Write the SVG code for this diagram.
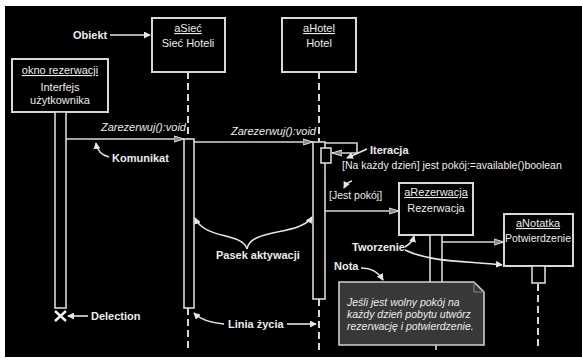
<svg xmlns="http://www.w3.org/2000/svg" width="582" height="363" viewBox="0 0 582 363">
<defs>
<marker id="msg" viewBox="0 0 10 8" refX="10" refY="4" markerWidth="10" markerHeight="8" markerUnits="userSpaceOnUse" orient="auto">
<path d="M0,1 L10,4 L0,7 Z" fill="#888" stroke="#e0e0e0" stroke-width="1"/>
</marker>
<marker id="ann" viewBox="0 0 8 8" refX="7" refY="4" markerWidth="7" markerHeight="7" markerUnits="userSpaceOnUse" orient="auto">
<path d="M0,0 L8,4 L0,8 Z" fill="#e6e6e6"/>
</marker>
<style>
.box{fill:#000;stroke:#d8d8d8;stroke-width:2}
.bar{fill:#000;stroke:#d8d8d8;stroke-width:1.6}
.life{stroke:#d8d8d8;stroke-width:2;stroke-dasharray:7 4;fill:none}
.msg{stroke:#d8d8d8;stroke-width:1.6;fill:none;marker-end:url(#msg)}
.ann{stroke:#e6e6e6;stroke-width:1.6;fill:none;marker-end:url(#ann)}
text{font-family:"Liberation Sans",Arial,sans-serif;fill:#ececec}
.t{font-size:11px;text-anchor:middle}
.u{text-decoration:underline}
.b{font-size:11px;font-weight:bold}
.i{font-size:11px;font-style:italic}
.g{font-size:10.5px}
.n{font-size:10.5px;font-style:italic}
</style>
</defs>
<rect x="0" y="0" width="582" height="363" fill="#ffffff"/>
<rect x="5" y="6" width="577" height="351" fill="#000000"/>

<g id="connectors">
<line class="life" x1="188" y1="72" x2="188" y2="139"/>
<line class="life" x1="319" y1="72" x2="319" y2="142"/>
<line class="life" x1="188" y1="308" x2="188" y2="352"/>
<line class="life" x1="319" y1="299" x2="319" y2="352"/>
<line class="life" x1="538" y1="284" x2="538" y2="350"/>
<line x1="436" y1="345" x2="436" y2="350" stroke="#d8d8d8" stroke-width="1.6"/>
<line class="msg" x1="66" y1="139" x2="184" y2="139"/>
<line class="msg" x1="194" y1="142" x2="313" y2="142"/>
<path class="msg" d="M325,143 H357 V153 H332"/>
<line class="msg" x1="325" y1="211" x2="399" y2="211"/>
<line class="msg" x1="442" y1="242" x2="504" y2="242"/>
</g>

<g id="node-okno">
<rect class="box" x="12" y="59" width="96" height="53"/>
<text class="t u" x="60" y="74">okno rezerwacji</text>
<text class="t" x="60" y="91">Interfejs</text>
<text class="t" x="60" y="104">użytkownika</text>
<rect class="bar" x="55" y="112" width="11" height="196"/>
<path d="M55,311 L66,321 M66,311 L55,321" stroke="#f2f2f2" stroke-width="2.4"/>
</g>

<g id="node-siec">
<rect class="box" x="152" y="18" width="73" height="54"/>
<text class="t u" x="188" y="32">aSieć</text>
<text class="t" x="188" y="47">Sieć Hoteli</text>
<rect class="bar" x="184" y="139" width="10" height="169"/>
</g>

<g id="node-hotel">
<rect class="box" x="282" y="18" width="74" height="54"/>
<text class="t u" x="319" y="32">aHotel</text>
<text class="t" x="319" y="47">Hotel</text>
<rect class="bar" x="313" y="142" width="12" height="157"/>
<rect class="bar" x="321" y="148" width="10" height="15"/>
</g>

<g id="node-rezerwacja">
<rect class="box" x="399" y="183" width="74" height="52"/>
<text class="t u" x="436" y="196">aRezerwacja</text>
<text class="t" x="436" y="212">Rezerwacja</text>
<rect class="bar" x="430" y="235" width="12" height="48"/>
</g>

<g id="node-notatka">
<rect class="box" x="504" y="214" width="69" height="52"/>
<text class="t u" x="538" y="227">aNotatka</text>
<text class="t" x="538" y="242" style="font-size:10.5px">Potwierdzenie</text>
<rect class="bar" x="532" y="266" width="13" height="17"/>
</g>

<g id="note">
<path d="M339,282 H474 L484,292 V345 H339 Z" fill="#383838" stroke="#cfcfcf" stroke-width="1.6"/>
<path d="M474,282 V292 H484" fill="none" stroke="#8a8a8a" stroke-width="1"/>
<text class="n" x="347" y="306">Jeśli jest wolny pokój na</text>
<text class="n" x="347" y="318">każdy dzień pobytu utwórz</text>
<text class="n" x="347" y="330">rezerwację i potwierdzenie.</text>
</g>

<g id="messages">
<text class="i" x="101" y="131">Zarezerwuj():void</text>
<text class="i" x="231" y="135">Zarezerwuj():void</text>
<text class="g" x="342" y="169">[Na każdy dzień] jest pokój:=available()boolean</text>
<text class="g" x="329" y="199">[Jest pokój]</text>
</g>

<g id="annotations">
<text class="b" x="73" y="39">Obiekt</text>
<line class="ann" x1="110" y1="35" x2="150" y2="35"/>
<text class="b" x="112" y="162">Komunikat</text>
<path class="ann" d="M109,157 C101,155 97,150 96,143"/>
<text class="b" x="370" y="154">Iteracja</text>
<line class="ann" x1="367" y1="149" x2="347" y2="158"/>
<path class="ann" d="M352,181 C348,182 346,184 344,188"/>
<text class="b" x="216" y="259">Pasek aktywacji</text>
<path class="ann" d="M247,249 C242,232 205,240 195,218"/>
<path class="ann" d="M247,249 C250,228 300,236 312,217"/>
<text class="b" x="352" y="251">Tworzenie</text>
<path class="ann" d="M405,247 C410,244 413,240 414,236"/>
<path class="ann" d="M405,250 C432,263 470,261 502,265"/>
<text class="b" x="334" y="270">Nota</text>
<path class="ann" d="M361,268 C372,268 378,272 383,280"/>
<text class="b" x="228" y="328">Linia życia</text>
<path class="ann" d="M224,324 C210,323 200,319 194,313"/>
<line class="ann" x1="287" y1="324" x2="316" y2="324"/>
<text class="b" x="91" y="320">Delection</text>
<line class="ann" x1="88" y1="316" x2="68" y2="316"/>
</g>
</svg>
